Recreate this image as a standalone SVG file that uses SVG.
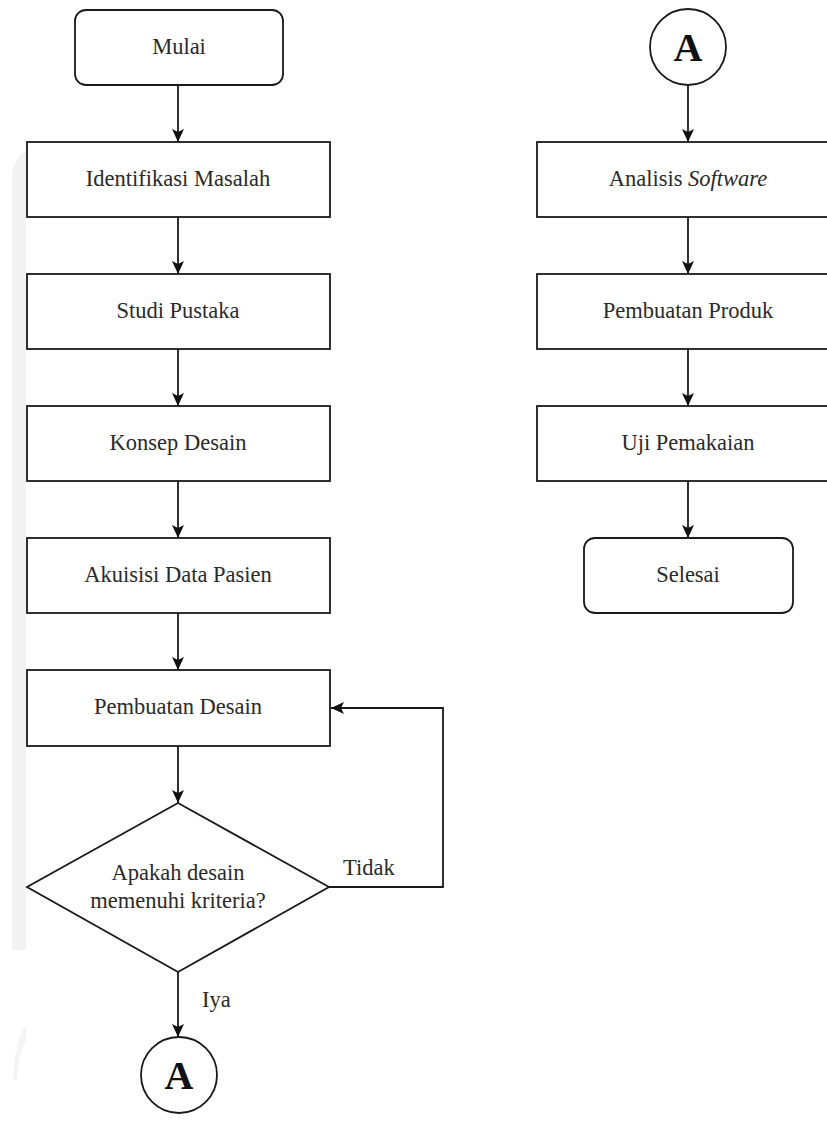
<svg xmlns="http://www.w3.org/2000/svg" width="827" height="1129" viewBox="0 0 827 1129">
<style>
.box{fill:#fff;stroke:#1a1a1a;stroke-width:1.8}
.t{font-family:"Liberation Serif","Times New Roman",serif;font-size:22.5px;fill:#2a2a2a;text-anchor:middle}
.lbl{font-family:"Liberation Serif","Times New Roman",serif;font-size:22.5px;fill:#2a2a2a}
.c{font-family:"Liberation Serif","Times New Roman",serif;font-size:40px;font-weight:bold;fill:#111;text-anchor:middle}
.ln{fill:none;stroke:#1a1a1a;stroke-width:1.8}
</style>
<defs>
<marker id="arr" markerUnits="userSpaceOnUse" markerWidth="14" markerHeight="14" refX="13" refY="7" orient="auto">
<path d="M0,1 L13,7 L0,13 L3,7 z" fill="#111"/>
</marker>
</defs>
<rect width="827" height="1129" fill="#fff"/>
<path d="M12,175 Q14,158 26,150 L26,950 L12,950 z" fill="#f2f2f2"/>
<path d="M13,1080 Q15,1040 26,1025 L26,1040 Q18,1055 17,1080 z" fill="#f4f4f4"/>
<g id="connectors">
<line class="ln" x1="178" y1="85" x2="178" y2="142" marker-end="url(#arr)"/>
<line class="ln" x1="178" y1="217" x2="178" y2="274" marker-end="url(#arr)"/>
<line class="ln" x1="178" y1="349" x2="178" y2="406" marker-end="url(#arr)"/>
<line class="ln" x1="178" y1="481" x2="178" y2="538" marker-end="url(#arr)"/>
<line class="ln" x1="178" y1="613" x2="178" y2="670" marker-end="url(#arr)"/>
<line class="ln" x1="178" y1="746" x2="178" y2="803" marker-end="url(#arr)"/>
<line class="ln" x1="178" y1="972" x2="178" y2="1037" marker-end="url(#arr)"/>
<path class="ln" d="M329,887 H443 V708 H331" marker-end="url(#arr)"/>
<line class="ln" x1="688" y1="85" x2="688" y2="142" marker-end="url(#arr)"/>
<line class="ln" x1="688" y1="217" x2="688" y2="274" marker-end="url(#arr)"/>
<line class="ln" x1="688" y1="349" x2="688" y2="406" marker-end="url(#arr)"/>
<line class="ln" x1="688" y1="481" x2="688" y2="538" marker-end="url(#arr)"/>
<text class="lbl" x="343" y="875">Tidak</text>
<text class="lbl" x="202" y="1007">Iya</text>
</g>
<g id="mulai"><rect class="box" x="75" y="10" width="208" height="75" rx="11"/><text class="t" x="179" y="54">Mulai</text></g>
<g id="identifikasi"><rect class="box" x="27" y="142" width="303" height="75"/><text class="t" x="178" y="186">Identifikasi Masalah</text></g>
<g id="studi"><rect class="box" x="27" y="274" width="303" height="75"/><text class="t" x="178" y="318">Studi Pustaka</text></g>
<g id="konsep"><rect class="box" x="27" y="406" width="303" height="75"/><text class="t" x="178" y="450">Konsep Desain</text></g>
<g id="akuisisi"><rect class="box" x="27" y="538" width="303" height="75"/><text class="t" x="178" y="582">Akuisisi Data Pasien</text></g>
<g id="pembuatan-desain"><rect class="box" x="27" y="670" width="303" height="76"/><text class="t" x="178" y="714">Pembuatan Desain</text></g>
<g id="keputusan"><polygon class="box" points="178,803 329,887 178,972 27,887"/><text class="t" x="178" y="880">Apakah desain</text><text class="t" x="178" y="908">memenuhi kriteria?</text></g>
<g id="konektor-a-bawah"><circle class="box" cx="179" cy="1075" r="38"/><text class="c" x="179" y="1089">A</text></g>
<g id="konektor-a-atas"><circle class="box" cx="688" cy="47" r="38"/><text class="c" x="688" y="61">A</text></g>
<g id="analisis"><rect class="box" x="537" y="142" width="303" height="75"/><text class="t" x="688" y="186">Analisis <tspan font-style="italic">Software</tspan></text></g>
<g id="produk"><rect class="box" x="537" y="274" width="303" height="75"/><text class="t" x="688" y="318">Pembuatan Produk</text></g>
<g id="uji"><rect class="box" x="537" y="406" width="303" height="75"/><text class="t" x="688" y="450">Uji Pemakaian</text></g>
<g id="selesai"><rect class="box" x="584" y="538" width="209" height="75" rx="11"/><text class="t" x="688" y="582">Selesai</text></g>
</svg>
